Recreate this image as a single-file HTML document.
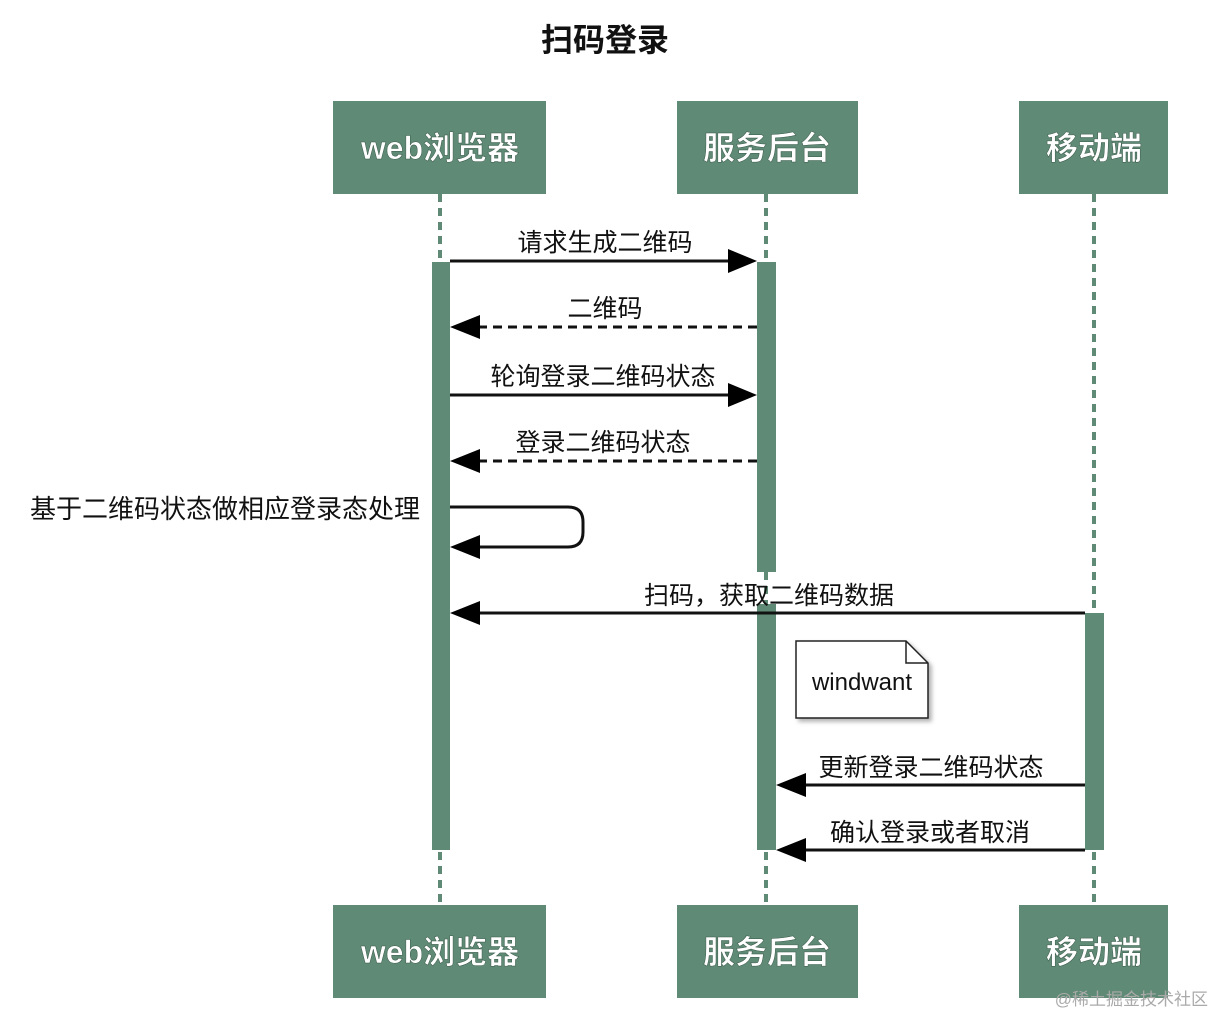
<!DOCTYPE html>
<html><head><meta charset="utf-8"><style>
html,body{margin:0;padding:0;background:#fff;}
text{font-family:"Liberation Sans","Noto Sans CJK SC",sans-serif;}
</style></head><body>
<svg width="1214" height="1016" viewBox="0 0 1214 1016" xmlns="http://www.w3.org/2000/svg">
<defs>
<filter id="sh" x="-10%" y="-10%" width="130%" height="130%"><feDropShadow dx="3" dy="3" stdDeviation="2" flood-color="#000" flood-opacity="0.3"/></filter>
</defs>
<text x="605" y="51" font-size="32" font-weight="bold" text-anchor="middle" fill="#111">扫码登录</text>
<!-- lifelines -->
<g stroke="#5f8a75" stroke-width="4" stroke-dasharray="8,6">
<line x1="440" y1="194" x2="440" y2="905"/>
<line x1="766" y1="194" x2="766" y2="905"/>
<line x1="1094" y1="194" x2="1094" y2="905"/>
</g>
<!-- boxes -->
<g fill="#5f8a75">
<rect x="333" y="101" width="213" height="93"/>
<rect x="677" y="101" width="181" height="93"/>
<rect x="1019" y="101" width="149" height="93"/>
<rect x="333" y="905" width="213" height="93"/>
<rect x="677" y="905" width="181" height="93"/>
<rect x="1019" y="905" width="149" height="93"/>
</g>
<g fill="#fff" font-size="32" font-weight="bold" text-anchor="middle" stroke="#3a5a4a" stroke-width="0.5">
<text x="440" y="159">web浏览器</text>
<text x="767" y="159">服务后台</text>
<text x="1094" y="159">移动端</text>
<text x="440" y="963">web浏览器</text>
<text x="767" y="963">服务后台</text>
<text x="1094" y="963">移动端</text>
</g>
<!-- activations -->
<g fill="#5f8a75">
<rect x="432" y="262" width="18" height="588"/>
<rect x="757" y="262" width="19" height="310"/>
<rect x="757" y="604" width="19" height="246"/>
<rect x="1085" y="613" width="19" height="237"/>
</g>
<!-- messages -->
<g stroke="#111" stroke-width="3" fill="none">
<line x1="450" y1="261" x2="730" y2="261"/>
<line x1="757" y1="327" x2="478" y2="327" stroke-dasharray="9,6"/>
<line x1="450" y1="395" x2="730" y2="395"/>
<line x1="757" y1="461" x2="478" y2="461" stroke-dasharray="9,6"/>
<path d="M450 507 H568 Q583 507 583 522 V532 Q583 547 568 547 H478"/>
<line x1="1085" y1="613" x2="478" y2="613"/>
<line x1="1085" y1="785" x2="804" y2="785"/>
<line x1="1085" y1="850" x2="804" y2="850"/>
</g>
<g fill="#000">
<polygon points="757,261 728,249 728,273"/>
<polygon points="450,327 480,315 480,339"/>
<polygon points="757,395 728,383 728,407"/>
<polygon points="450,461 480,449 480,473"/>
<polygon points="450,547 480,535 480,559"/>
<polygon points="450,613 480,601 480,625"/>
<polygon points="776,785 806,773 806,797"/>
<polygon points="776,850 806,838 806,862"/>
</g>
<g font-size="25" fill="#111" text-anchor="middle">
<text x="605" y="251">请求生成二维码</text>
<text x="605" y="317">二维码</text>
<text x="603" y="385">轮询登录二维码状态</text>
<text x="603" y="451">登录二维码状态</text>
<text x="420" y="518" text-anchor="end" font-size="26">基于二维码状态做相应登录态处理</text>
<text x="769" y="604">扫码，获取二维码数据</text>
<text x="931" y="776">更新登录二维码状态</text>
<text x="930" y="841">确认登录或者取消</text>
</g>
<!-- note -->
<path d="M796 641 H906 L928 663 V718 H796 Z" fill="#fff" stroke="#222" stroke-width="1.5" filter="url(#sh)"/>
<path d="M906 641 V663 H928" fill="none" stroke="#222" stroke-width="1.5"/>
<text x="862" y="690" font-size="24" fill="#111" text-anchor="middle">windwant</text>
<text x="1208" y="1005" font-size="17" fill="#aaa" text-anchor="end">@稀土掘金技术社区</text>
</svg>
</body></html>
